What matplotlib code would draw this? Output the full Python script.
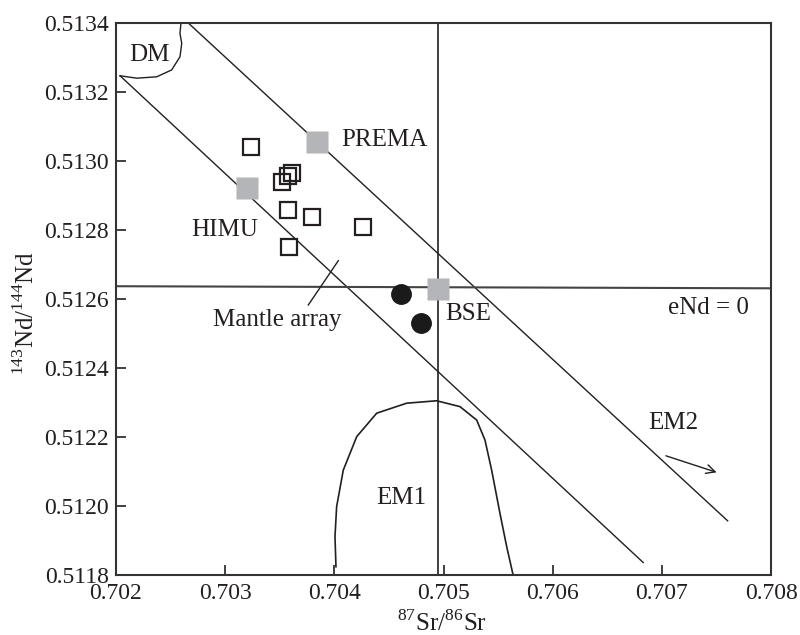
import matplotlib
matplotlib.use("Agg")
import matplotlib.pyplot as plt

plt.rcParams['font.family'] = ['Liberation Serif', 'DejaVu Serif']
plt.rcParams['mathtext.fontset'] = 'custom'
plt.rcParams['mathtext.rm'] = 'Liberation Serif'

# ---- data ----
sample_sr = [0.703234, 0.703518, 0.703578, 0.703615, 0.703578, 0.703793, 0.703587, 0.704265]
sample_nd = [0.513041, 0.512938, 0.512957, 0.512965, 0.512858, 0.512837, 0.512752, 0.512808]

circle_sr = [0.704608, 0.704791]
circle_nd = [0.5126145, 0.512531]

reservoir_names = ['PREMA', 'HIMU', 'BSE']
reservoir_sr = [0.703844, 0.703203, 0.704952]
reservoir_nd = [0.513056, 0.512921, 0.512629]

upper_sr = [0.702662, 0.707603]
upper_nd = [0.513400, 0.511957]
lower_sr = [0.702037, 0.706830]
lower_nd = [0.513247, 0.511836]

dm_sr = [0.702037, 0.702190, 0.702373, 0.702510, 0.702586, 0.702602, 0.702586, 0.702595]
dm_nd = [0.513247, 0.513240, 0.513244, 0.513264, 0.513302, 0.513341, 0.513370, 0.513400]

em1_sr = [0.704015, 0.704006, 0.704021, 0.704082, 0.704205, 0.704388, 0.704663,
          0.704938, 0.705151, 0.705304, 0.705380, 0.705441, 0.705517, 0.705579, 0.705634]
em1_nd = [0.511824, 0.511911, 0.511998, 0.512104, 0.512201, 0.512269, 0.512298,
          0.512305, 0.512288, 0.512249, 0.512191, 0.512104, 0.511979, 0.511882, 0.511805]

bse_sr = 0.70495
chur_nd = [0.512637, 0.512631]

xticks = [0.702, 0.703, 0.704, 0.705, 0.706, 0.707, 0.708]
yticks = [0.5118, 0.5120, 0.5122, 0.5124, 0.5126, 0.5128, 0.5130, 0.5132, 0.5134]

fig = plt.figure(figsize=(8, 6.35), dpi=100)
ax = fig.add_axes([0.145, 0.0945, 0.81875, 0.8693])
ax.set_xlim(0.702, 0.708)
ax.set_ylim(0.5118, 0.5134)

lc = '#231f20'
ax.plot(upper_sr, upper_nd, color=lc, lw=1.0)
ax.plot(lower_sr, lower_nd, color=lc, lw=1.0)
ax.plot(dm_sr, dm_nd, color=lc, lw=1.0)
ax.plot(em1_sr, em1_nd, color=lc, lw=1.2, solid_joinstyle='round')
ax.axvline(bse_sr, color=lc, lw=1.2)
ax.plot([0.702, 0.708], chur_nd, color='#444444', lw=1.5)

# mantle array pointer
ax.plot([0.7040363, 0.7037615], [0.512711, 0.5125826], color=lc, lw=1.0)
# EM2 arrow
ax.annotate('', xy=(0.707526, 0.512095), xytext=(0.707013, 0.512148),
            arrowprops=dict(arrowstyle='->', color=lc, lw=1.0, mutation_scale=16))

ax.plot(sample_sr, sample_nd, 's', mfc='none', mec=lc, mew=1.6, ms=11, zorder=5)
ax.plot(circle_sr, circle_nd, 'o', color='#1a1a1a', ms=14, zorder=5)
ax.plot(reservoir_sr, reservoir_nd, 's', color='#b4b5b9', mec='none', ms=15.5, zorder=6)

fs = 18
tc = '#231f20'
ax.text(0.702311, 0.513307, 'DM', fontsize=fs, ha='center', va='center', color=tc)
ax.text(0.704067, 0.513061, 'PREMA', fontsize=fs, ha='left', va='center', color=tc)
ax.text(0.702693, 0.512800, 'HIMU', fontsize=fs, ha='left', va='center', color=tc)
ax.text(0.702891, 0.512539, 'Mantle array', fontsize=fs, ha='left', va='center', color=tc)
ax.text(0.705014, 0.512557, 'BSE', fontsize=fs, ha='left', va='center', color=tc)
ax.text(0.707056, 0.512573, 'eNd = 0', fontsize=fs, ha='left', va='center', color=tc)
ax.text(0.706873, 0.512241, 'EM2', fontsize=fs, ha='left', va='center', color=tc)
ax.text(0.704388, 0.512023, 'EM1', fontsize=fs, ha='left', va='center', color=tc)

ax.set_xticks(xticks)
ax.set_xticklabels([f'{v:.3f}' for v in xticks])
ax.set_yticks(yticks)
ax.set_yticklabels([f'{v:.4f}' for v in yticks])
ax.tick_params(direction='in', length=7, width=1.2, labelsize=17, colors=tc)
ax.tick_params(axis='x', pad=6)
ax.tick_params(axis='y', pad=5)
for s in ax.spines.values():
    s.set_linewidth(1.5)
    s.set_color('#333333')

ax.set_xlabel(r'$^{87}$Sr/$^{86}$Sr', fontsize=18, color=tc, va='center')
ax.xaxis.set_label_coords(0.498, -0.087)
ax.set_ylabel(r'$^{143}$Nd/$^{144}$Nd', fontsize=18, color=tc, va='center')
ax.yaxis.set_label_coords(-0.137, 0.475)

fig.savefig('out.png', dpi=100)
